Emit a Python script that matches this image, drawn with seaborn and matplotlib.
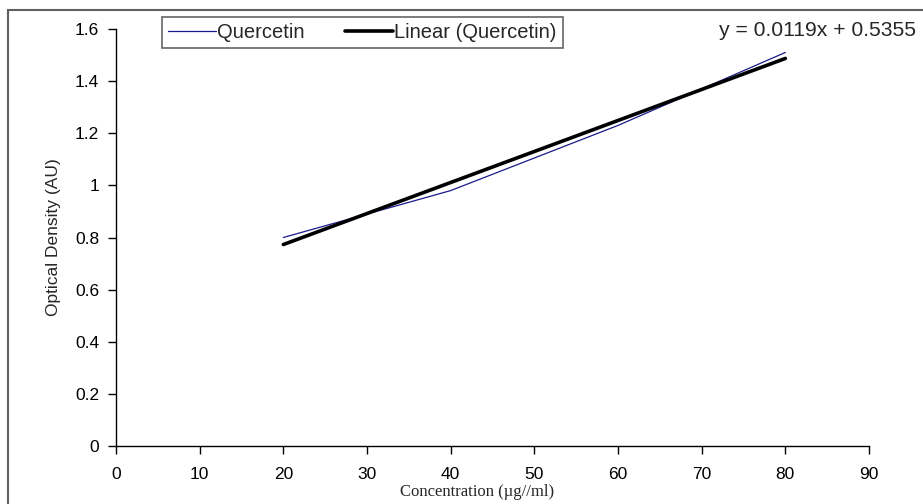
import numpy as np
import pandas as pd
import matplotlib
matplotlib.use('Agg')
import matplotlib.pyplot as plt
import seaborn as sns
from matplotlib.patches import Rectangle

# quercetin standard curve readings
concentration = [20, 40, 60, 80]
optical_density = [0.80, 0.98, 1.23, 1.51]
x_ticks = [0, 10, 20, 30, 40, 50, 60, 70, 80, 90]
y_ticks = [0, 0.2, 0.4, 0.6, 0.8, 1.0, 1.2, 1.4, 1.6]
y_tick_labels = ['0', '0.2', '0.4', '0.6', '0.8', '1', '1.2', '1.4', '1.6']
equation = 'y = 0.0119x + 0.5355'

df = pd.DataFrame({'conc': concentration, 'od': optical_density})

sns.set_style('ticks')
plt.rcParams['font.family'] = ['Liberation Sans', 'DejaVu Sans']

fig = plt.figure(figsize = (9.23, 5.04), dpi = 100)
ax = fig.add_axes([116/923, 1 - 446/504, (869-116)/923, (446-29)/504])

# outer frame like the excel chart area
fig.patches.append(Rectangle((8/923, -0.1), 1.2, 1 - 10/504 + 0.1, transform = fig.transFigure,
                             fill = False, edgecolor = '#606060', linewidth = 1.5))

sns.lineplot(data = df, x = 'conc', y = 'od', ax = ax, color = '#1a1a8c', linewidth = 0.9, label = 'Quercetin')
sns.regplot(data = df, x = 'conc', y = 'od', ax = ax, scatter = False, ci = None, truncate = True,
            label = 'Linear (Quercetin)', line_kws = dict(color = 'black', linewidth = 2.6))

ax.set_xlim(0, 90)
ax.set_ylim(0, 1.6)
ax.set_xticks(x_ticks)
ax.set_yticks(y_ticks)
ax.set_yticklabels(y_tick_labels)
ax.tick_params(axis = 'both', direction = 'out', length = 6, width = 1, labelsize = 12.5, colors = 'black')
ax.tick_params(axis = 'x', pad = 9)
ax.tick_params(axis = 'y', pad = 6)
for side in ['top', 'right']:
    ax.spines[side].set_visible(False)
for side in ['left', 'bottom']:
    ax.spines[side].set_color('black')
    ax.spines[side].set_linewidth(1)

ax.set_ylabel('Optical Density (AU)', fontsize = 12.5, labelpad = 10)
ax.set_xlabel('')
fig.text(477/923, 1 - 492/504, 'Concentration (µg//ml)', ha = 'center', va = 'center',
         fontsize = 12, family = ['Liberation Serif', 'DejaVu Serif'])

fig.text(719/923, 1 - 30/504, equation, ha = 'left', va = 'center', fontsize = 15.2)

leg = ax.legend(loc = 'upper left', bbox_to_anchor = (162/923, 1 - 17/504), bbox_transform = fig.transFigure,
                ncol = 2, frameon = True, fancybox = False, fontsize = 14.5, handlelength = 2.4,
                handletextpad = 0.05, columnspacing = 2.0, borderpad = 0.3, borderaxespad = 0)
leg.get_frame().set_edgecolor('#404040')
leg.get_frame().set_linewidth(1.2)

fig.savefig('out.png', dpi = 100)
plt.close()
